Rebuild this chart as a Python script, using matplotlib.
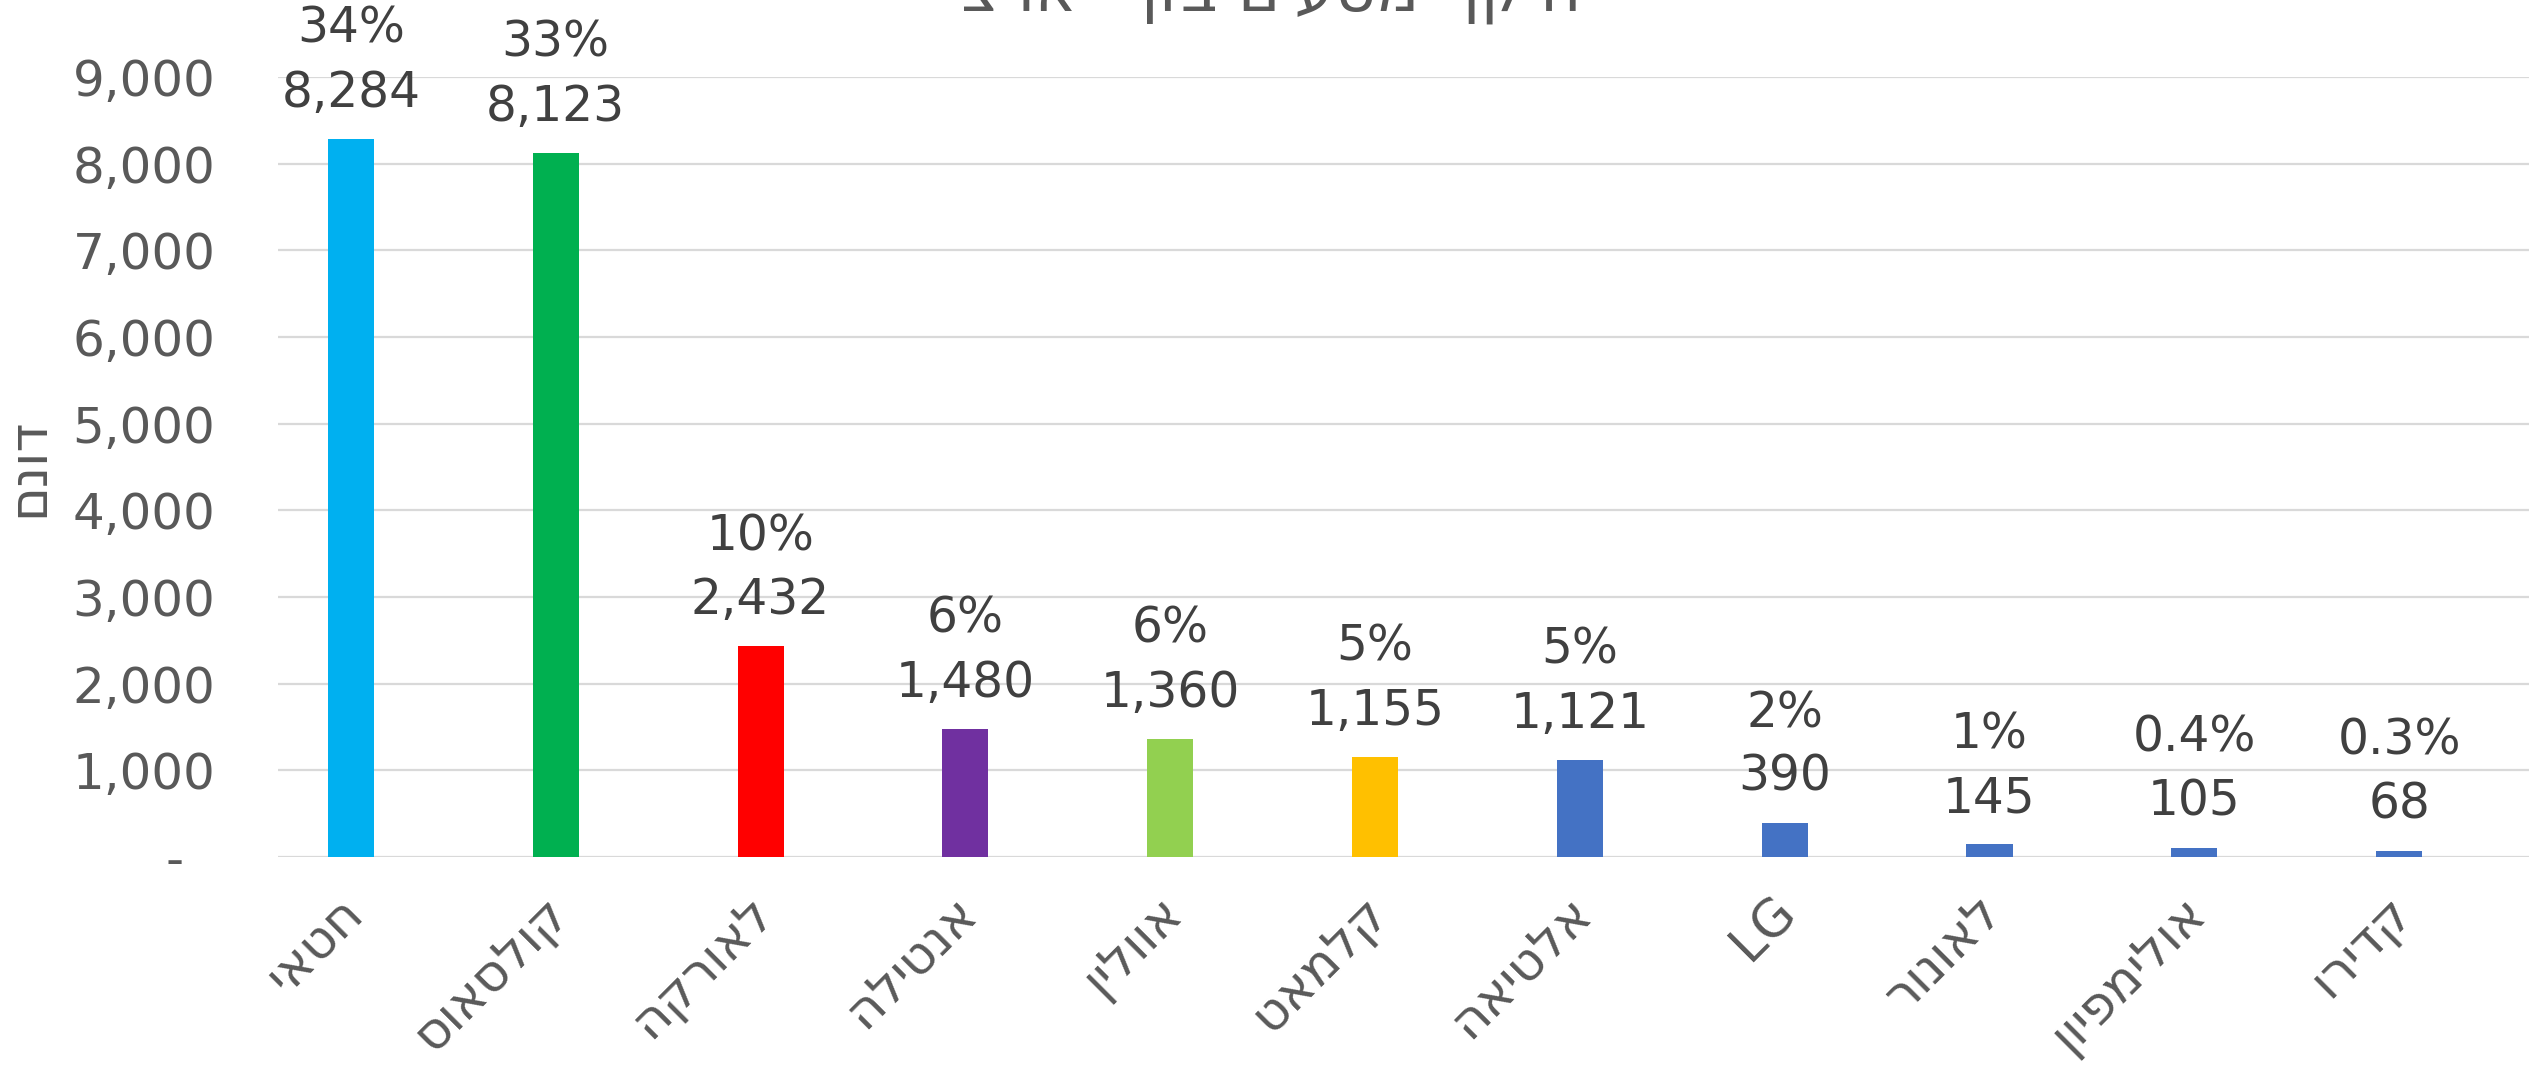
import matplotlib
matplotlib.use("Agg")
import matplotlib.pyplot as plt
import matplotlib.transforms as mtransforms

# זנים ושטחים (דונם)
varieties = ["חטאי", "קולסאוס", "לאורקה", "אנטילה", "אוולין", "קלמאט",
             "אלטיאה", "LG", "לאונור", "אולימפיון", "קדירו"]
dunams = [8284, 8123, 2432, 1480, 1360, 1155, 1121, 390, 145, 105, 68]
shares = ["34%", "33%", "10%", "6%", "6%", "5%", "5%", "2%", "1%", "0.4%", "0.3%"]
colors = ["#00B0F0", "#00B050", "#FF0000", "#7030A0", "#92D050", "#FFC000",
          "#4472C4", "#4472C4", "#4472C4", "#4472C4", "#4472C4"]
yticks = [0, 1000, 2000, 3000, 4000, 5000, 6000, 7000, 8000, 9000]
title = "היקף מטעים בזן - ארצי"
ylabel = "דונם"


def heb(s):
    # matplotlib has no bidi, flip hebrew by hand
    if any('\u0590' <= c <= '\u05ff' for c in s):
        return s[::-1]
    return s


plt.rcParams['font.family'] = ['DejaVu Sans']
W, H = 2529, 1084
fig = plt.figure(figsize=(W / 100, H / 100), dpi=100)
ax = fig.add_axes([278 / W, (H - 857) / H, 1 - 278 / W, (857 - 77) / H])

x = list(range(len(varieties)))
ax.bar(x, dunams, width=0.225, color=colors, zorder=3)

ax.set_xlim(-0.356, 10.634)
ax.set_ylim(0, 9000)
ax.set_yticks(yticks)
ax.set_yticklabels(["-  "] + [f"{v:,}" for v in yticks[1:]])
ax.grid(axis='y', color='#D9D9D9', linewidth=1.6, zorder=0)
for s in ax.spines.values():
    s.set_visible(False)
ax.tick_params(axis='y', length=0, pad=45, labelsize=36, labelcolor='#595959')
ax.tick_params(axis='x', length=0, pad=22, labelsize=37, labelcolor='#595959')

ax.set_xticks(x)
ax.set_xticklabels([heb(v) for v in varieties], rotation=45, ha='right',
                   va='center', rotation_mode='anchor')
shift = mtransforms.ScaledTranslation(0.04, -0.17, fig.dpi_scale_trans)
for lbl in ax.get_xticklabels():
    lbl.set_transform(lbl.get_transform() + shift)

for xi, v, p in zip(x, dunams, shares):
    ax.annotate(f"{p}\n{v:,}", (xi, v), xytext=(0, 16), textcoords='offset points',
                ha='center', va='bottom', fontsize=35, color='#404040',
                linespacing=1.42, annotation_clip=False)

ax.set_ylabel(heb(ylabel), fontsize=38, color='#595959')
ax.yaxis.set_label_coords(-224 / (W - 278), 0.5)

fig.text(0.5, 1 - 11 / H, heb(title), ha='center', va='baseline',
         fontsize=46, color='#595959')

fig.savefig("out.png", dpi=100)
